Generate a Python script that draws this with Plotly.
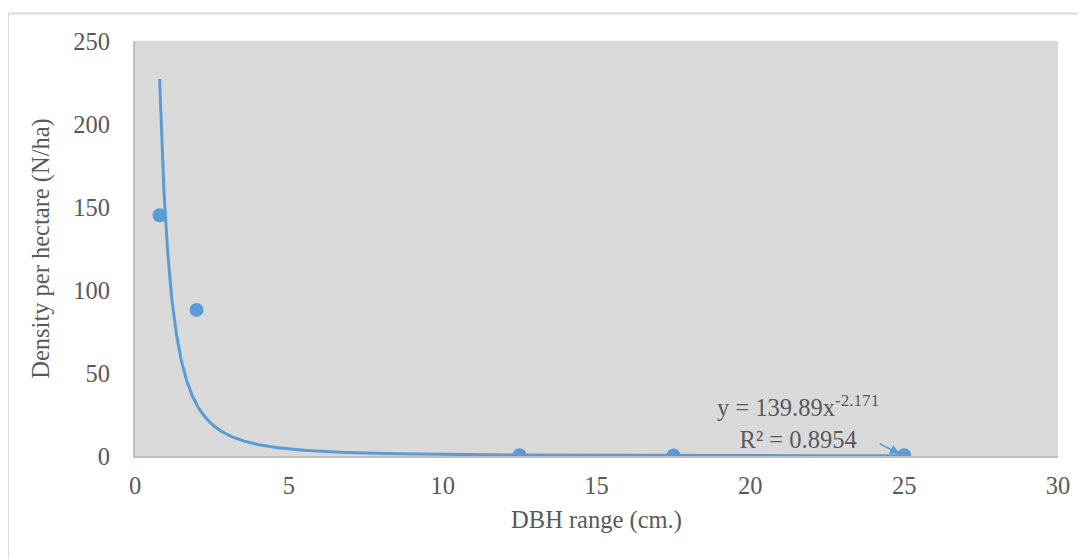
import numpy as np
import plotly.graph_objects as go

# Data
dbh = [0.8, 2.0, 12.5, 17.5, 25.0]
density = [145, 88, 0.5, 0.3, 0.5]

# Power trendline coefficients shown on the chart
coef_a = 139.89
coef_b = -2.171
r2 = 0.8954

x_ticks = [0, 5, 10, 15, 20, 25, 30]
y_ticks = [0, 50, 100, 150, 200, 250]

blue = "#5B9BD5"
txt = "#595959"
font_family = "Liberation Serif"
fs = 24.5

xt = np.geomspace(min(dbh), max(dbh), 600)
yt = coef_a * xt ** coef_b

fig = go.Figure()
fig.add_trace(go.Scatter(x=xt, y=yt, mode="lines",
                         line=dict(color=blue, width=3), showlegend=False,
                         hoverinfo="skip"))
fig.add_trace(go.Scatter(x=dbh, y=density, mode="markers",
                         marker=dict(color=blue, size=14), showlegend=False))

# page offset (body margin) and plot area pixel geometry in screenshot coords
OFF = 8
W, H = 1086 - OFF, 559 - OFF
L, T = 135 - OFF, 41 - OFF
R = W - (1058 - OFF)
B = H - (456 - OFF)
pw, ph = W - L - R, H - T - B

def px_x(p):
    return (p - OFF - L) / pw

def px_y(p):
    return (H - B - (p - OFF)) / ph

fig.add_shape(type="rect", xref="paper", yref="paper",
              x0=px_x(8), x1=px_x(1100), y0=px_y(600), y1=px_y(13.5),
              line=dict(color="#D9D9D9", width=2), fillcolor="rgba(0,0,0,0)",
              layer="below")

fig.add_annotation(x=25, y=0, ax=-26, ay=-13, text="", showarrow=True,
                   arrowhead=2, arrowsize=1.3, arrowwidth=1.5, arrowcolor=blue,
                   standoff=5)
fig.add_annotation(x=px_x(798), y=px_y(422), xref="paper", yref="paper",
                   xanchor="center", yanchor="middle",
                   text=f"y = {coef_a}x<sup>{coef_b}</sup><br>R² = {r2}",
                   showarrow=False, align="center",
                   font=dict(family=font_family, size=fs, color=txt))

fig.update_layout(
    width=W, height=H,
    margin=dict(l=L, r=R, t=T, b=B),
    paper_bgcolor="white", plot_bgcolor="#D9D9D9",
    font=dict(family=font_family, size=fs, color=txt),
)
fig.update_xaxes(range=[0, 30], tickvals=x_ticks, showgrid=False, zeroline=False,
                 showline=True, linecolor="#BFBFBF", linewidth=2,
                 ticks="", ticklabelstandoff=7,
                 title=dict(text="DBH range (cm.)", standoff=12,
                            font=dict(family=font_family, size=fs, color=txt)))
fig.update_yaxes(range=[0, 250], tickvals=y_ticks, showgrid=False, zeroline=False,
                 showline=True, linecolor="#BFBFBF", linewidth=2,
                 ticks="", ticklabelstandoff=18,
                 title=dict(text="Density per hectare (N/ha)", standoff=17,
                            font=dict(family=font_family, size=fs, color=txt)))

fig.write_html("out.html")
